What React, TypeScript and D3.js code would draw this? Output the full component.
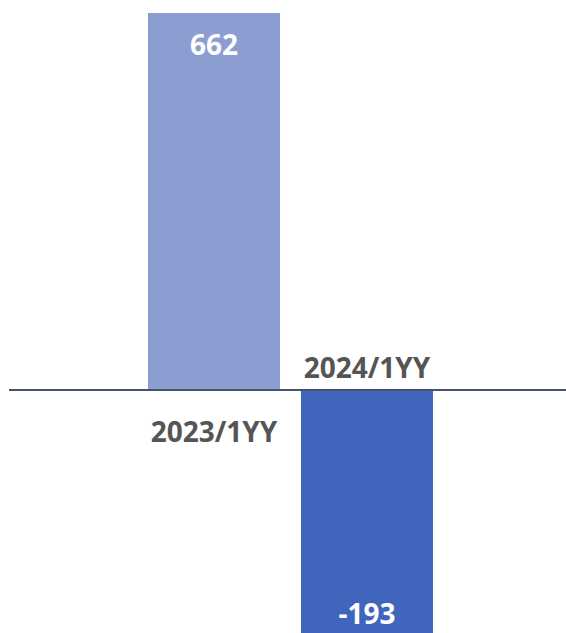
import React from "react";
import * as d3 from "d3";

const categories = ["2023/1YY", "2024/1YY"];
const values = [662, -193];
const barColors = ["#8b9dd1", "#4065bd"];

const W = 566;
const H = 633;

export default function App() {
  const x = d3.scaleBand<string>().domain(categories).range([148, 433]).paddingInner(0.137).paddingOuter(0);
  const y = d3.scaleLinear().domain([-193, 0, 662]).range([650, 390, 13]);
  const font = "'Open Sans', sans-serif";

  return (
    <svg width={W} height={H} style={{ position: "absolute", left: 0, top: 0, background: "#fff" }}>
      {categories.map((c, i) => {
        const v = values[i];
        const x0 = x(c)!;
        const bw = x.bandwidth();
        const top = Math.min(y(v), y(0));
        const bottom = Math.max(y(v), y(0));
        const cx = x0 + bw / 2;
        return (
          <g key={c}>
            <rect x={x0} y={top} width={bw} height={bottom - top} fill={barColors[i]} />
            <text
              x={cx}
              y={v >= 0 ? top + 42 : bottom - 26}
              textAnchor="middle"
              fontFamily={font}
              fontWeight={700}
              fontSize={28}
              fill="#ffffff"
            >
              {v < 0 ? "-" + Math.abs(v) : v}
            </text>
            <text
              x={cx}
              y={v >= 0 ? y(0) + 52 : y(0) - 12}
              textAnchor="middle"
              fontFamily={font}
              fontWeight={700}
              fontSize={28}
              fill="#555555"
            >
              {c}
            </text>
          </g>
        );
      })}
      <line x1={9} x2={W} y1={y(0)} y2={y(0)} stroke="#44546a" strokeWidth={2} />
    </svg>
  );
}
